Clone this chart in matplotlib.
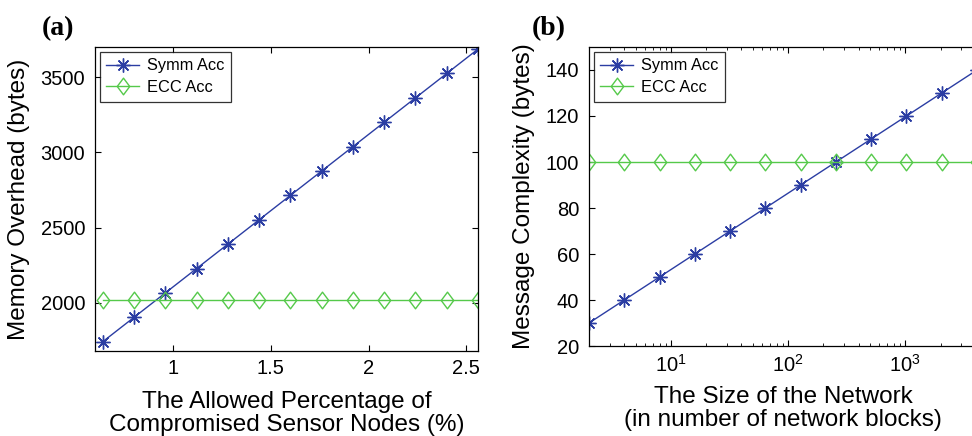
import numpy as np
import matplotlib
matplotlib.use("Agg")
import matplotlib.pyplot as plt
from matplotlib.path import Path

plt.rcParams['font.family'] = ['Liberation Sans', 'DejaVu Sans']

# panel (a) data
pct = [0.64, 0.80, 0.96, 1.12, 1.28, 1.44, 1.60, 1.76, 1.92, 2.08, 2.24, 2.40, 2.56]
mem_symm = [1742, 1904, 2066, 2228, 2390, 2552, 2714, 2876, 3038, 3200, 3362, 3524, 3686]
mem_ecc = [2016] * 13

# panel (b) data
blocks = [2, 4, 8, 16, 32, 64, 128, 256, 512, 1024, 2048, 4096]
msg_symm = [30, 40, 50, 60, 70, 80, 90, 100, 110, 120, 130, 140]
msg_ecc = [100] * 12

blue = '#2B3DA3'
green = '#55C94A'
diamond = Path([(0, 1), (0.75, 0), (0, -1), (-0.75, 0), (0, 1)],
               [Path.MOVETO, Path.LINETO, Path.LINETO, Path.LINETO, Path.CLOSEPOLY])

fig = plt.figure(figsize=(9.72, 4.36), dpi=100)
ax1 = fig.add_axes([95/972, 1-351/436, 383/972, 304/436])
ax2 = fig.add_axes([589/972, 1-346/436, 388/972, 299/436])


def style(ax, right=True):
    ax.tick_params(direction='in', top=True, right=right, labelsize=14.5, length=4)
    ax.tick_params(axis='x', pad=6)
    ax.tick_params(axis='y', pad=7)
    ax.tick_params(which='minor', direction='in', top=True, right=right, length=2)
    for s in ax.spines.values():
        s.set_linewidth(0.9)


def add_legend(ax):
    leg = ax.legend(loc='upper left', fontsize=11.8, frameon=True, fancybox=False, edgecolor='black',
                    borderaxespad=0.3, handlelength=2.0, borderpad=0.4, labelspacing=0.4,
                    handletextpad=0.45)
    leg.get_frame().set_linewidth(0.9)


ax1.plot(pct, mem_symm, color=blue, lw=1.0, marker=(8, 2, 0), ms=10, mew=1.0, label='Symm Acc')
ax1.plot(pct, mem_ecc, color=green, lw=1.0, marker=diamond, ms=12, mew=1.0,
         mfc='none', label='ECC Acc')
ax1.set_xlim(0.6, 2.56)
ax1.set_ylim(1680, 3700)
ax1.set_xticks([1, 1.5, 2, 2.5])
ax1.set_xticklabels(['1', '1.5', '2', '2.5'])
ax1.set_yticks([2000, 2500, 3000, 3500])
ax1.set_xlabel('The Allowed Percentage of\nCompromised Sensor Nodes (%)', fontsize=17.5, labelpad=9,
               linespacing=1.05)
ax1.set_ylabel('Memory Overhead (bytes)', fontsize=17.5, labelpad=8)
style(ax1)
add_legend(ax1)

ax2.semilogx(blocks, msg_symm, color=blue, lw=1.0, marker=(8, 2, 0), ms=10, mew=1.0, label='Symm Acc')
ax2.semilogx(blocks, msg_ecc, color=green, lw=1.0, marker=diamond, ms=12, mew=1.0,
             mfc='none', label='ECC Acc')
ax2.set_xlim(2, 4096)
ax2.set_ylim(20, 150)
ax2.set_yticks([20, 40, 60, 80, 100, 120, 140])
ax2.set_xlabel('The Size of the Network\n(in number of network blocks)', fontsize=17.5, labelpad=7,
               linespacing=1.05)
ax2.set_ylabel('Message Complexity (bytes)', fontsize=17.5, labelpad=8)
style(ax2, right=False)
add_legend(ax2)

fig.text(42/972, 1-29/436, '(a)', fontsize=20, fontweight='bold', family='Liberation Serif', va='center')
fig.text(532/972, 1-29/436, '(b)', fontsize=20, fontweight='bold', family='Liberation Serif', va='center')

fig.savefig('out.png', dpi=100)
